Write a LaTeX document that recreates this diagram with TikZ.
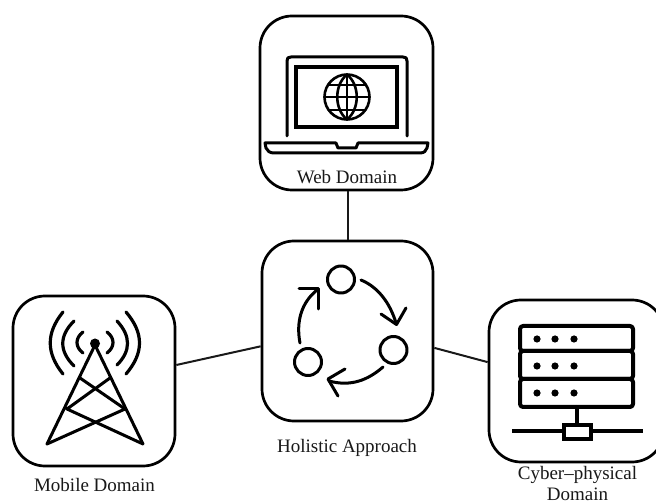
\documentclass[tikz,border=0pt]{standalone}
\usepackage{fontspec}
\setmainfont{Liberation Serif}
\tikzset{
  domain box/.style={draw=black,line width=2.7pt,rounded corners=32pt,inner sep=0pt,minimum width=#1,fill=white},
  lbl/.style={inner sep=0pt,align=center,font=\fontsize{19}{20.5}\selectfont,text=black!90},
  link/.style={draw=black!90,line width=2pt},
  icon/.style={draw=black,line width=3pt,line cap=round,line join=round},
  thick icon/.style={icon,line width=4pt},
  wave/.style={icon,line width=3.2pt}
}
\begin{document}
\begin{tikzpicture}[x=1pt,y=-1pt]
\useasboundingbox (0,0) rectangle (656,502);
\clip (0,0) rectangle (656,502);
\fill[white] (0,0) rectangle (656,502);
% boxes
\node[domain box=173pt,minimum height=174pt] (web) at (346.5,103) {};
\node[domain box=171pt,minimum height=180pt] (hol) at (347.5,331) {};
\node[domain box=162pt,minimum height=170pt] (mob) at (94,381) {};
\node[domain box=175pt,minimum height=162pt] (cyb) at (576.5,381) {};
% connectors
\draw[link] (web.south -| hol.north) -- (hol.north);
\draw[link] (mob.11) -- (hol.190.6);
\draw[link] (hol.-11.9) -- (cyb.168);
% labels
\node[lbl] (weblbl) at (347,177) {Web Domain};
\node[lbl] (hollbl) at (347,448) {Holistic Approach};
\node[lbl] (moblbl) at (94.5,485) {Mobile Domain};
\node[lbl,anchor=south] (cyblbl) at (577.5,500.5) {Cyber--physical\\Domain};
% laptop
\draw[icon] (287,136) -- (287,61) .. controls (287,58) and (288,57) .. (291,57) -- (403,57) .. controls (406,57) and (407,58) .. (407,61) -- (407,136);
\draw[thick icon,line join=miter] (296,67) rectangle (397,127);
\draw[icon] (265,143) -- (336,143) -- (338,148) -- (356,148) -- (358,143) -- (428,143) -- (427,148) .. controls (426,151) and (424,153) .. (420,153) -- (274,153) .. controls (270,153) and (267,151) .. (266,148) -- cycle;
\begin{scope}[icon,line width=2.6pt]
\draw (347,97) circle (22.5pt);
\draw (347,74.5) -- (347,119.5) (324.5,97) -- (369.5,97);
\draw (347,74.5) .. controls (334,85) and (334,109) .. (347,119.5) .. controls (360,109) and (360,85) .. (347,74.5);
\draw (329,85) -- (365,85) (329,110) -- (365,110);
\end{scope}
% cycle
\draw[icon] (341,279.5) circle (13.5pt);
\draw[icon] (393.5,350) circle (13.5pt);
\draw[icon] (308,362) circle (13.5pt);
\draw[icon] (361,280) .. controls (378,287) and (390,303) .. (396,323);
\draw[icon] (381,314) -- (396.5,324.5) -- (406,308);
\draw[icon] (383,367) .. controls (368,380) and (351,387) .. (329,381);
\draw[icon] (345,369) -- (328,379) -- (338,396);
\draw[icon] (300,343) .. controls (296,322) and (301,303) .. (317,290);
\draw[icon] (299,289) -- (318,289) -- (318,309);
% tower
\fill (95,343.5) circle (5pt);
\draw[icon] (47,444) -- (95,345) -- (143,444) -- (67,409) -- (110,378);
\draw[icon] (47,444) -- (125,409) -- (80,378);
\draw[wave] (63,374) .. controls (46,353) and (46,333) .. (63,312);
\draw[wave] (74,366) .. controls (59,351) and (59,336) .. (74,321);
\draw[wave] (83,353) .. controls (75,347) and (75,338) .. (83,332);
\draw[wave] (126,374) .. controls (144,353) and (144,333) .. (126,312);
\draw[wave] (117,365) .. controls (131,351) and (131,336) .. (117,321);
\draw[wave] (107,353) .. controls (115,347) and (115,338) .. (107,332);
% server
\draw[thick icon,rounded corners=3pt] (520,326) rectangle (633,351);
\draw[thick icon,rounded corners=3pt] (520,351) rectangle (633,379);
\draw[thick icon,rounded corners=3pt] (520,379) rectangle (633,407);
\foreach \y in {339,366,393} \foreach \x in {537,555,574} \fill (\x,\y) circle (3.6pt);
\draw[thick icon] (577,407) -- (577,424);
\draw[thick icon,line cap=butt] (512,431) -- (563,431) (592,431) -- (643,431);
\draw[thick icon,line join=miter] (564,425) rectangle (591,438.5);
\end{tikzpicture}
\end{document}
